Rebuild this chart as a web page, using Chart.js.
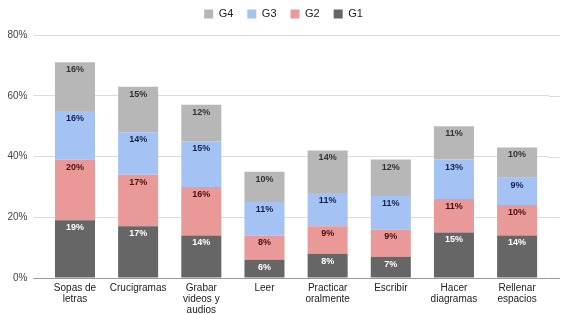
<!DOCTYPE html>
<html>
<head>
<meta charset="utf-8">
<script src="https://cdn.jsdelivr.net/npm/chart.js@4"></script>
<style>
html,body{margin:0;padding:0;background:#fff;}
#wrap{width:567px;height:314px;position:relative;}
</style>
</head>
<body>
<div id="wrap"><canvas id="c"></canvas></div>
<script>
const categories = [["Sopas de","letras"],"Crucigramas",["Grabar","videos y","audios"],"Leer",["Practicar","oralmente"],"Escribir",["Hacer","diagramas"],["Rellenar","espacios"]];
const g1 = [19,17,14,6,8,7,15,14];
const g2 = [20,17,16,8,9,9,11,10];
const g3 = [16,14,15,11,11,11,13,9];
const g4 = [16,15,12,10,14,12,11,10];
const yTicks = [0,20,40,60,80];

const labelColors = ['#ffffff','#4a0d0d','#14224d','#333333'];
const FONT = '"Liberation Sans", Arial, sans-serif';

const barLabels = {
  id:'barLabels',
  afterDatasetsDraw(chart){
    const ctx = chart.ctx;
    ctx.save();
    ctx.font = 'bold 9px ' + FONT;
    ctx.textAlign = 'center';
    ctx.textBaseline = 'middle';
    chart.data.datasets.forEach((ds, di) => {
      const meta = chart.getDatasetMeta(di);
      if (meta.hidden) return;
      meta.data.forEach((bar, i) => {
        ctx.fillStyle = ds.labelColor;
        ctx.fillText(ds.data[i] + '%', bar.x, bar.y + 7.5);
      });
    });
    ctx.restore();
  }
};

const gridExtend = {
  id:'gridExtend',
  beforeDatasetsDraw(chart){
    const ctx = chart.ctx;
    const y = chart.scales.y;
    const a = chart.chartArea;
    ctx.save();
    ctx.lineWidth = 1;
    y.ticks.forEach(t => {
      const py = Math.round(y.getPixelForValue(t.value)) + 0.5;
      ctx.strokeStyle = t.value === 0 ? '#9a9a9a' : '#dcdcdc';
      ctx.beginPath();
      ctx.moveTo(a.right, py);
      ctx.lineTo(chart.width - 7, py);
      ctx.stroke();
    });
    ctx.restore();
  }
};

new Chart(document.getElementById('c'), {
  type:'bar',
  data:{
    labels: categories,
    datasets:[
      {label:'G1', data:g1, backgroundColor:'#666666', labelColor:labelColors[0]},
      {label:'G2', data:g2, backgroundColor:'#ea9999', labelColor:labelColors[1]},
      {label:'G3', data:g3, backgroundColor:'#a4c2f4', labelColor:labelColors[2]},
      {label:'G4', data:g4, backgroundColor:'#b7b7b7', labelColor:labelColors[3]}
    ]
  },
  options:{
    responsive:true,
    maintainAspectRatio:false,
    animation:false,
    categoryPercentage:1,
    barPercentage:0.634,
    layout:{padding:{left:0, right:0, top:-5.5, bottom:0}},
    plugins:{
      legend:{
        position:'top',
        reverse:true,
        labels:{
          boxWidth:9, boxHeight:9, padding:14,
          color:'#222',
          font:{family:FONT, size:11}
        }
      },
      tooltip:{enabled:false}
    },
    scales:{
      x:{
        stacked:true,
        grid:{display:false, drawTicks:false},
        border:{display:false},
        afterFit(a){ a.height = 36; },
        ticks:{
          color:'#222', padding:5, maxRotation:0, autoSkip:false,
          font:{family:FONT, size:10, lineHeight:1.1}
        }
      },
      xTop:{
        type:'linear', position:'top', display:true,
        grid:{display:false, drawTicks:false},
        border:{display:false},
        ticks:{display:false},
        afterFit(a){ a.height = 5.5; }
      },
      y:{
        stacked:true,
        min:0, max:80,
        afterBuildTicks(axis){ axis.ticks = yTicks.map(v => ({value:v})); },
        afterFit(a){ a.width = 43.4; },
        grid:{
          color: c => (c.tick && c.tick.value === 0) ? '#9a9a9a' : '#dcdcdc',
          tickLength:10
        },
        border:{display:false},
        ticks:{
          color:'#444', padding:6,
          callback: v => v + '%',
          font:{family:FONT, size:10}
        }
      },
      yRight:{
        type:'linear', position:'right', display:true,
        grid:{display:false, drawTicks:false},
        border:{display:false},
        ticks:{display:false},
        afterFit(a){ a.width = 18.3; }
      }
    }
  },
  plugins:[gridExtend, barLabels]
});
</script>
</body>
</html>
